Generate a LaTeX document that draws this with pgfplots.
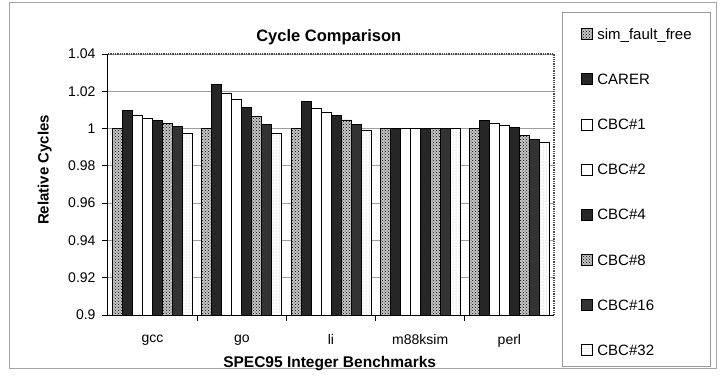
\documentclass[border=0pt]{standalone}
\usepackage{fontspec}
\setmainfont{Liberation Sans}
\usepackage{pgfplots}
\pgfplotsset{compat=1.18}
\usetikzlibrary{patterns}
\pgfplotsset{ybar legend/.style={/pgfplots/legend image code/.code={\draw[##1,line width=1pt] (0pt,-5pt) rectangle (11pt,6pt);}}}
\pgfplotstableread{
x sim carer c1 c2 c4 c8 c16 c32
0 1.000 1.0096 1.0073 1.0056 1.0042 1.0025 1.0012 0.9975
1 1.000 1.0236 1.0186 1.0155 1.0112 1.0065 1.0020 0.9973
2 1.000 1.0145 1.0106 1.0088 1.0072 1.0046 1.0023 0.9990
3 1.000 1.0000 1.0000 1.0000 1.0000 1.0000 1.0000 1.0000
4 1.000 1.0045 1.0030 1.0018 1.0008 0.9965 0.9940 0.9925
}\datatable
\begin{document}
\begin{tikzpicture}[x=1pt,y=1pt]
\useasboundingbox (-108,-66) rectangle (612,315);
\draw[gray!70, line width=1pt] (-98,312) rectangle (608,-53);
\draw[gray!80, line width=1pt] (454,302) rectangle (602,-51);
\begin{axis}[
  name=ax,
  at={(0,0)}, anchor=south west,
  scale only axis, width=446pt, height=261pt,
  ybar=0pt, bar width=10pt,
  xmin=-0.5, xmax=4.5, ymin=0.9, ymax=1.04,
  xtick={0,1,2,3,4}, xticklabels={gcc,go,li,m88ksim,perl},
  minor xtick={0.5,1.5,2.5,3.5},
  ytick={0.9,0.92,0.94,0.96,0.98,1.0,1.02,1.04},
  yticklabels={0.9,0.92,0.94,0.96,0.98,1,1.02,1.04},
  axis x line*=bottom, axis y line*=left,
  axis line style={black, line width=1pt},
  tick align=outside, major tick length=6pt, minor tick length=6pt,
  tick style={black, line width=0.8pt},
  major x tick style={draw=none},
  ymajorgrids, grid style={gray!75, line width=0.8pt},
  ticklabel style={font=\fontsize{14}{16}\selectfont},
  yticklabel style={xshift=-3pt},
  xticklabel style={yshift=-10pt},
  title={Cycle Comparison},
  title style={at={(axis description cs:0.495,1.042)}, anchor=center, font=\bfseries\fontsize{16.5}{19}\selectfont},
  xlabel={SPEC95 Integer Benchmarks},
  xlabel style={at={(axis description cs:0.497,-0.187)}, anchor=center, font=\bfseries\fontsize{15.5}{17}\selectfont},
  ylabel={Relative Cycles},
  ylabel style={at={(axis description cs:-0.142,0.556)}, anchor=center, rotate=0, font=\bfseries\fontsize{15}{17}\selectfont},
  legend style={at={(1.061,1.107)}, anchor=north west, draw=none, fill=none,
    row sep=29.2pt, font=\fontsize{15}{17}\selectfont, inner sep=0pt,
    /tikz/every odd column/.style={column sep=2pt}},
  legend cell align=left,
  every axis plot/.append style={draw=black, line width=0.9pt},
]
\addplot[fill=gray!45, postaction={pattern=crosshatch dots}] table[x=x,y=sim]{\datatable};
\addplot[fill=black!85] table[x=x,y=carer]{\datatable};
\addplot[fill=white] table[x=x,y=c1]{\datatable};
\addplot[fill=white] table[x=x,y=c2]{\datatable};
\addplot[fill=black!85] table[x=x,y=c4]{\datatable};
\addplot[fill=gray!45, postaction={pattern=crosshatch dots}] table[x=x,y=c8]{\datatable};
\addplot[fill=black!80] table[x=x,y=c16]{\datatable};
\addplot[fill=white, postaction={pattern=dots, pattern color=gray!70}] table[x=x,y=c32]{\datatable};
\legend{sim\_fault\_free,CARER,CBC\#1,CBC\#2,CBC\#4,CBC\#8,CBC\#16,CBC\#32}
\end{axis}
\draw[gray!60!black, densely dotted, line width=1.3pt] (ax.north west) -- (ax.north east) -- (ax.south east);
\end{tikzpicture}
\end{document}
